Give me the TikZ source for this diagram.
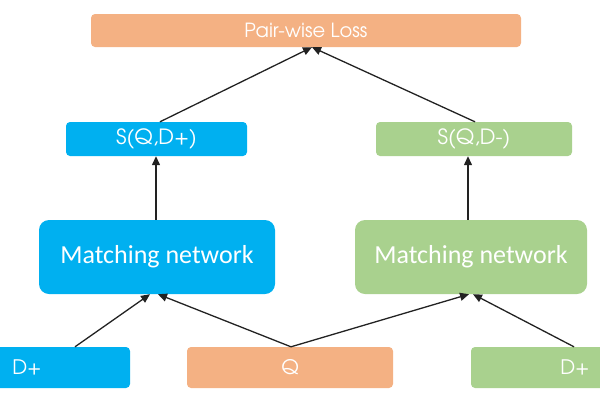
\documentclass[tikz,border=0pt]{standalone}
\usepackage{fontspec}
\setmainfont{Carlito}
\newfontfamily\gothic{TeX Gyre Adventor}
\usetikzlibrary{arrows.meta}
\definecolor{lossor}{HTML}{F4B183}
\definecolor{blu}{HTML}{00B0F0}
\definecolor{grn}{HTML}{A9D18E}
\definecolor{arr}{HTML}{222222}
\tikzset{
  box/.style={rectangle, rounded corners=4pt, inner sep=0pt, text=white, font=\gothic\fontsize{20}{20}\selectfont},
  bigbox/.style={rectangle, rounded corners=10pt, inner sep=0pt, text=white, font=\fontsize{26}{26}\selectfont},
  conn/.style={draw=arr, line width=1.3pt, -{Triangle[length=9pt,width=8pt]}}
}
\begin{document}
\begin{tikzpicture}[x=1pt,y=-1pt]
\useasboundingbox (0,0) rectangle (600,400);
\clip (0,0) rectangle (600,400);
\node[box, fill=lossor, minimum width=430pt, minimum height=33pt, font=\gothic\fontsize{19.5}{19.5}\selectfont] (loss) at (306,30.5) {Pair-wise Loss};
\node[box, fill=blu, minimum width=181pt, minimum height=34pt, font=\gothic\fontsize{21}{21}\selectfont] (splus) at (156.5,139) {S(Q,D+)};
\node[box, fill=grn, minimum width=196pt, minimum height=34pt, font=\gothic\fontsize{21}{21}\selectfont] (sminus) at (474,139) {S(Q,D-)};
\node[bigbox, fill=blu, minimum width=236pt, minimum height=74pt] (mnl) at (157,257) {Matching network};
\node[bigbox, fill=grn, minimum width=232pt, minimum height=74pt] (mnr) at (471,257) {Matching network};
\node[box, fill=blu, minimum width=206pt, minimum height=41pt] (dpl) at (27,367.5) {D+};
\node[box, fill=lossor, minimum width=206pt, minimum height=41pt] (q) at (290,367.5) {Q};
\node[box, fill=grn, minimum width=208pt, minimum height=41pt] (dpr) at (575,367.5) {D+};
\draw[conn] ([xshift=48pt]dpl.north) -- ([xshift=-7pt]mnl.south);
\draw[conn] ([xshift=1pt]q.north) -- ([xshift=1pt]mnl.south);
\draw[conn] ([xshift=1pt]q.north) -- ([xshift=-2pt]mnr.south);
\draw[conn] ([xshift=-1pt]dpr.north) -- ([xshift=2pt]mnr.south);
\draw[conn] ([xshift=-1pt]mnl.north) -- ([xshift=-0.5pt]splus.south);
\draw[conn] ([xshift=-3pt]mnr.north) -- ([xshift=-6pt]sminus.south);
\draw[conn] ([xshift=3.5pt]splus.north) -- ([xshift=6pt]loss.south);
\draw[conn] ([xshift=1pt]sminus.north) -- ([xshift=6pt]loss.south);
\end{tikzpicture}
\end{document}
